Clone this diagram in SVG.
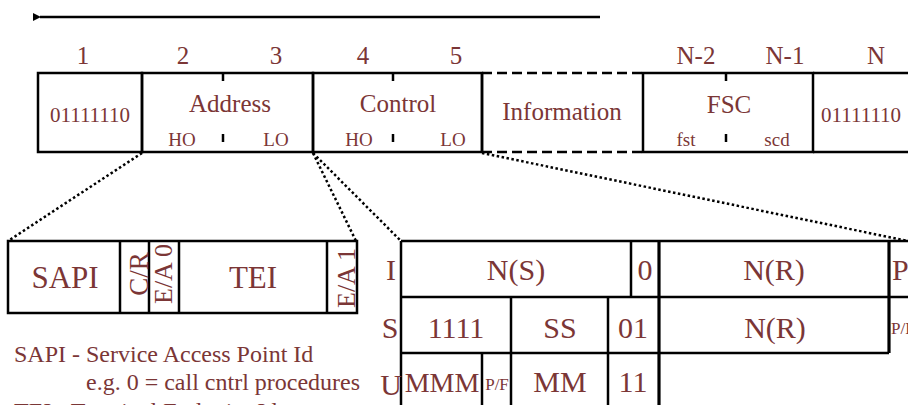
<svg xmlns="http://www.w3.org/2000/svg" width="908" height="405" viewBox="0 0 908 405">
<defs>
<style>
text{font-family:"Liberation Serif","Times New Roman",serif;fill:#7b3636;text-anchor:middle}
.ln{stroke:#000;stroke-width:2.5;fill:none}
.thk{stroke:#000;stroke-width:3.2;fill:none}
.dash{stroke:#000;stroke-width:2.5;fill:none;stroke-dasharray:10 5}
.dot{stroke:#000;stroke-width:2.5;fill:none;stroke-dasharray:2.5 2.5}
.num{font-size:25px}
.big{font-size:25px}
.bits{font-size:21px}
.sm{font-size:19px}
.cell{font-size:30px}
.note{font-size:24px;text-anchor:start}
</style>
<marker id="ah" markerWidth="8" markerHeight="8" refX="1" refY="4" orient="auto" markerUnits="userSpaceOnUse">
<path d="M8,0 L0,4 L8,8 Z" fill="#000"/>
</marker>
</defs>
<rect width="908" height="405" fill="#fff"/>

<g id="connectors">
<line class="ln" x1="600" y1="17" x2="40" y2="17" stroke-width="3" marker-end="url(#ah)"/>
<line class="dot" x1="142" y1="153" x2="8" y2="241"/>
<line class="dot" x1="313" y1="153" x2="356" y2="241"/>
<line class="dot" x1="313" y1="153" x2="401" y2="241"/>
<line class="dot" x1="482" y1="153" x2="908" y2="241"/>
</g>

<g id="byte-numbers">
<text class="num" x="83" y="64">1</text>
<text class="num" x="183" y="64">2</text>
<text class="num" x="276" y="64">3</text>
<text class="num" x="363" y="64">4</text>
<text class="num" x="456" y="64">5</text>
<text class="num" x="696" y="64">N-2</text>
<text class="num" x="785" y="64">N-1</text>
<text class="num" x="876" y="64">N</text>
</g>

<g id="flag-start">
<rect class="ln" x="38" y="73" width="104" height="79"/>
<text class="bits" x="90" y="122">01111110</text>
</g>

<g id="address">
<rect class="ln" x="142" y="73" width="171" height="79"/>
<line class="ln" x1="223" y1="73" x2="223" y2="81"/>
<line class="ln" x1="223" y1="134" x2="223" y2="142"/>
<text class="big" x="230" y="112">Address</text>
<text class="sm" x="182" y="146">HO</text>
<text class="sm" x="276" y="146">LO</text>
</g>

<g id="control">
<rect class="ln" x="313" y="73" width="169" height="79"/>
<line class="ln" x1="393" y1="73" x2="393" y2="81"/>
<line class="ln" x1="393" y1="134" x2="393" y2="142"/>
<text class="big" x="398" y="112">Control</text>
<text class="sm" x="359" y="146">HO</text>
<text class="sm" x="453" y="146">LO</text>
</g>

<g id="information">
<line class="ln" x1="482" y1="73" x2="482" y2="152"/>
<line class="dash" x1="482" y1="73" x2="643" y2="73"/>
<line class="dash" x1="482" y1="152" x2="643" y2="152"/>
<text class="big" x="562" y="120">Information</text>
</g>

<g id="fsc">
<rect class="ln" x="643" y="73" width="170" height="79"/>
<line class="ln" x1="726" y1="73" x2="726" y2="81"/>
<line class="ln" x1="726" y1="134" x2="726" y2="142"/>
<text class="big" x="729" y="113">FSC</text>
<text class="sm" x="686" y="146">fst</text>
<text class="sm" x="777" y="146">scd</text>
</g>

<g id="flag-end">
<line class="ln" x1="813" y1="73" x2="908" y2="73"/>
<line class="ln" x1="813" y1="152" x2="908" y2="152"/>
<text class="bits" x="821" y="122" style="text-anchor:start">01111110</text>
</g>

<g id="address-detail">
<rect class="ln" x="8" y="241" width="349" height="72"/>
<line class="ln" x1="120" y1="241" x2="120" y2="313"/>
<line class="ln" x1="149" y1="241" x2="149" y2="313"/>
<line class="ln" x1="179" y1="241" x2="179" y2="313"/>
<line class="ln" x1="327" y1="241" x2="327" y2="313"/>
<text x="65" y="288" font-size="31">SAPI</text>
<text x="148" y="274" font-size="27" transform="rotate(-90 148 274)">C/R</text>
<text x="172" y="274" font-size="26" transform="rotate(-90 172 274)">E/A 0</text>
<text x="253" y="288" font-size="31">TEI</text>
<text x="355" y="278" font-size="26" transform="rotate(-90 355 278)">E/A 1</text>
</g>

<g id="control-detail">
<line class="ln" x1="401" y1="241" x2="908" y2="241"/>
<line class="ln" x1="401" y1="297" x2="908" y2="297"/>
<line class="ln" x1="401" y1="353" x2="889" y2="353"/>
<line class="ln" x1="401" y1="241" x2="401" y2="405"/>
<line class="ln" x1="631" y1="241" x2="631" y2="297"/>
<line class="thk" x1="659" y1="241" x2="659" y2="405"/>
<line class="thk" x1="889" y1="241" x2="889" y2="353"/>
<line class="ln" x1="511" y1="297" x2="511" y2="405"/>
<line class="ln" x1="608" y1="297" x2="608" y2="405"/>
<line class="ln" x1="482" y1="353" x2="482" y2="405"/>
<text class="cell" x="391" y="280">I</text>
<text class="cell" x="516" y="280">N(S)</text>
<text class="cell" x="645" y="280">0</text>
<text class="cell" x="774" y="280">N(R)</text>
<text class="cell" x="892" y="280" style="text-anchor:start">P</text>
<text class="cell" x="390" y="338">S</text>
<text class="cell" x="456" y="338">1111</text>
<text class="cell" x="560" y="338">SS</text>
<text class="cell" x="633" y="338">01</text>
<text class="cell" x="775" y="338">N(R)</text>
<text x="891" y="334" font-size="17" style="text-anchor:start">P/F</text>
<text class="cell" x="391" y="395">U</text>
<text x="442" y="392" font-size="28">MMM</text>
<text x="497" y="390" font-size="17">P/F</text>
<text class="cell" x="560" y="392">MM</text>
<text class="cell" x="633" y="392">11</text>
</g>

<g id="notes">
<text class="note" x="14" y="362">SAPI - Service Access Point Id</text>
<text class="note" x="86" y="390">e.g. 0 = call cntrl procedures</text>
<text class="note" x="14" y="419">TEI - Terminal Endpoint Id</text>
</g>
</svg>
